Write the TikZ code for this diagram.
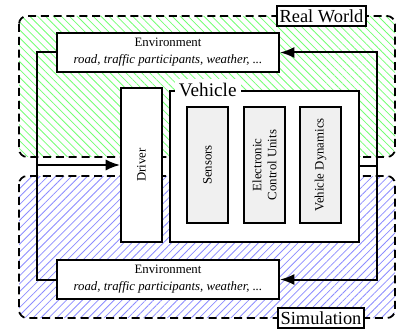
\documentclass[tikz,border=0pt]{standalone}
\usepackage{fontspec}
\setmainfont{Liberation Serif}
\usetikzlibrary{patterns.meta,arrows.meta}

\tikzset{
  block/.style={draw, line width=1.25pt, fill=white},
  unit/.style={draw, line width=1pt, fill=gray!12, rotate=90, minimum width=72.5pt, minimum height=25.6pt, align=center, inner sep=1pt, font=\fontsize{8}{9.5}\selectfont},
  area/.style={line width=1.1pt, dash pattern=on 5pt off 3pt, rounded corners=5pt},
  tag/.style={draw, line width=1pt, fill=white, inner sep=1.5pt, minimum height=12.5pt, font=\fontsize{11.5}{13}\selectfont},
  flow/.style={line width=1.25pt},
  >={Latex[length=9pt,width=7pt]}
}

\begin{document}
\begin{tikzpicture}[x=0.625pt, y=-0.625pt]
        \useasboundingbox (0,0) rectangle (403,335);
        \draw [area, pattern={Lines[angle=-45, distance=3.5pt, line width=0.5pt]}, pattern color=green!55] (19,16) rectangle (395,157);
        \draw [area, pattern={Lines[angle=45, distance=3.5pt, line width=0.5pt]}, pattern color=blue!45] (19,176) rectangle (395,318);
        \node [tag] (realworld) at (321.5,16) {Real World};
        \node [tag] (simulation) at (321,318) {Simulation};
        \node [block, align=center, minimum width=138.75pt, minimum height=24.4pt, font=\fontsize{8}{10.5}\selectfont] (envtop) at (168,52.5) {Environment\\ \textit{road, traffic participants, weather, ...}};
        \node [block, align=center, minimum width=138.75pt, minimum height=24.4pt, font=\fontsize{8}{10.5}\selectfont] (envbot) at (168,279.5) {Environment\\ \textit{road, traffic participants, weather, ...}};
        \node [block, minimum width=25.6pt, minimum height=96.25pt] (driver) at (141.5,165) {};
        \node [rotate=90, font=\fontsize{8}{9.5}\selectfont] (drivertext) at (driver) {Driver};
        \node [block, minimum width=118.1pt, minimum height=94.4pt] (vehicle) at (264.5,166.5) {};
        \node [fill=white, anchor=west, inner sep=2.5pt, font=\fontsize{12}{14}\selectfont] (vehiclelabel) at ([xshift=3.5pt]vehicle.north west) {Vehicle};
        \node [unit] (sensors) at (207.5,165) {Sensors};
        \node [unit] (ecu) at (264.5,165) {Electronic\\Control Units};
        \node [unit] (dynamics) at (320.5,165) {Vehicle Dynamics};
        \coordinate (split) at (377,166.5);
        \coordinate (merge) at (37,165);
        \draw [flow] (vehicle.east) -- (split);
        \draw [flow, ->] (split) |- (envtop.east);
        \draw [flow, ->] (split) |- (envbot.east);
        \draw [flow] (envtop.west) -| (merge) |- (envbot.west);
        \draw [flow, ->] (merge) -- (driver.west);
\end{tikzpicture}
\end{document}
